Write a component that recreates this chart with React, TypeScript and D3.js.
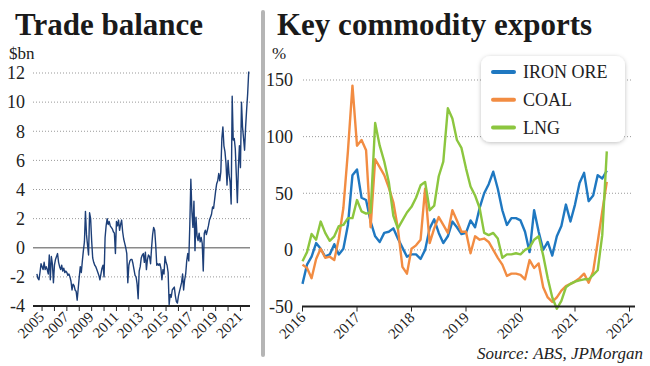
import React from 'react';
import * as d3 from 'd3';

// Trade balance, $bn, monthly from Aug 2004
const tradeStartYear = 2004 + 7 / 12;
const tradeBalance = [
  -1.8, -2.1, -2.2, -1.7, -1.1,
  -1.3, -1.5, -1.0, -1.5, -1.3, -1.5, -1.8, -0.5, -2.2, -0.6, -1.1, -2.4,
  -1.2, -0.8, -0.6, -0.4, -1.0, -1.3, -1.5, -1.2, -1.6, -1.4, -1.7, -1.6,
  -1.7, -1.9, -1.8, -2.0, -2.3, -2.9, -2.5, -2.6, -2.9, -3.0, -3.6, -2.8,
  -2.0, -1.3, -1.7, -0.9, -0.2, 0.4, 2.5, 0.9, 0.2, -0.5, 2.4, 2.0,
  0.5, -0.7, -1.0, -1.2, -1.3, -1.5, -1.7, -1.9, -2.2, -1.8, -1.4, -1.2,
  -2.0, 0.7, 1.5, 2.0, 1.6, 1.8, 1.5, 1.4, 1.3, 1.1, 1.0, -0.4,
  1.8, 1.5, 1.9, 1.2, 1.6, 1.9, 1.1, 0.6, 0.3, 0.0, -0.4, -2.4,
  -1.2, -0.9, -0.8, -0.8, -1.1, -1.5, -1.9, -2.0, -2.5, -3.5, -1.6, -1.3,
  -0.7, -0.5, -0.4, -1.0, -0.3, -1.5, -0.8, -0.5, -0.6, -1.1, 0.0, 0.9,
  1.4, 1.2, 0.2, -1.2, -1.1, -1.2, -1.1, -1.4, -2.2, -1.5, -1.8, -0.6,
  -1.0, -1.2, -1.7, -3.9, -3.2, -3.4, -2.9, -2.8, -2.7, -3.3, -3.7, -3.8,
  -3.3, -3.0, -2.7, -2.4, -1.8, -2.9, -2.2, -1.8, -0.9, -0.4, -0.9, 1.6,
  4.7, 2.5, 1.4, 3.2, -0.2, 2.1, 0.8, 0.5, 1.0, 0.4, 0.7, 0.3,
  -1.6, 1.0, 1.2, 0.9, 1.2, 1.5, 1.9, 2.1, 2.3, 2.8, 2.7, 3.3,
  3.9, 4.4, 4.6, 5.1, 4.6, 5.2, 7.5, 8.3, 7.0, 6.6, 5.8, 4.3,
  6.0, 5.0, 4.5, 3.0, 10.4, 7.4, 7.5, 6.8, 5.0, 3.1, 5.5, 7.0,
  5.5, 10.0, 8.3, 7.5, 6.7, 8.3, 9.5, 10.6, 12.1,
];

// Commodity exports, % change, monthly from Jan 2016
const commodityStartYear = 2016;
const ironOre = [
  -30, -13, -6, 6, 1, -6, -4, 5, -4, 1, 22, 66,
  71, 46, 44, 25, 12, 7, 15, 16, 19, 10, 2, -6,
  -4, -4, -8, 0, 19, 27, 15, 6, 12, 25, 20, 14,
  15, 26, 20, 37, 50, 58, 69, 54, 35, 22, 28, 28,
  26, 16, -2, 35, 16, 0, 7, -5, 12, 21, 40, 25,
  40, 59, 68, 43, 48, 66, 63, 70,
];
const coal = [
  -13, -16, -25, -8, 1, -7, -6, -9, 10, 37, 87, 145,
  92, 97, 88, 20, 80, 73, 66, 55, 42, 19, -15, -21,
  1, 4, 9, 54, 6, 19, 29, 22, 15, 35, 26, 16,
  16, -3, 12, 9, 10, 7, 0, -7, -13, -23, -21, -21,
  -22, -26, -9, -16, -12, -33, -42, -46, -42, -36, -32, -30,
  -28, -25, -21, -29, -19, 7, 34, 60,
];
const lng = [
  -10, -2, 14, 9, 25, 15, 8, 12, 21, 22, 28, 28,
  44, 34, 32, 33, 112, 92, 78, 60, 30, 19, 26, 33,
  38, 46, 57, 60, 35, 39, 65, 78, 125, 116, 97, 90,
  72, 56, 48, 37, 15, 13, 15, 10, -7, -4, -4, -3,
  -4, 0, 2, 9, 12, -5, -25, -42, -52, -45, -33, -30,
  -28, -27, -26, -26, -22, -18, 13, 87,
];

const seriesNames = ['IRON ORE', 'COAL', 'LNG'];
const seriesColors = ['#1f78c1', '#f28c42', '#8cc63f'];
const seriesValues = [ironOre, coal, lng];

const leftYTicks = [-4, -2, 0, 2, 4, 6, 8, 10, 12];
const leftYears = d3.range(2005, 2022);
const leftYearLabels = [2005, 2007, 2009, 2011, 2013, 2015, 2017, 2019, 2021];
const rightYTicks = [-50, 0, 50, 100, 150];
const rightYears = [2016, 2017, 2018, 2019, 2020, 2021, 2022];

const FONT = '"Liberation Serif", "Times New Roman", serif';
const INK = '#222';

const App: React.FC = () => {
  const W = 650;
  const H = 366;

  // left panel
  const xL = d3.scaleLinear().domain([2004.27, 2021.77]).range([33, 250]);
  const yL = d3.scaleLinear().domain([-4, 12]).range([306, 73]);
  const tradeLine = d3
    .line<number>()
    .x((_, i) => xL(tradeStartYear + i / 12))
    .y((d) => yL(d));

  // right panel
  const xR = d3.scaleLinear().domain([2016, 2022]).range([302.5, 629.5]);
  const yR = d3.scaleLinear().domain([-50, 150]).range([306.5, 80]);
  const commodityLine = d3
    .line<number>()
    .x((_, i) => xR(commodityStartYear + i / 12))
    .y((d) => yR(d));

  return (
    <svg
      width={W}
      height={H}
      style={{ position: 'absolute', left: 0, top: 0, background: '#fff' }}
      fontFamily={FONT}
    >
      <defs>
        <filter id="shadow" x="-20%" y="-20%" width="140%" height="150%">
          <feDropShadow dx="0" dy="1" stdDeviation="2" floodColor="#000" floodOpacity="0.25" />
        </filter>
      </defs>

      {/* titles */}
      <text x={15} y={35} fontSize={31} fontWeight="bold" fill="#1a1a1a">
        Trade balance
      </text>
      <text x={277} y={35} fontSize={31} fontWeight="bold" fill="#1a1a1a">
        Key commodity exports
      </text>
      <rect x={261} y={10} width={4} height={347} rx={2} fill="#b5b5b5" />

      {/* ---------- left chart ---------- */}
      <text x={9} y={59} fontSize={17} fill={INK}>$bn</text>
      {leftYTicks.map((t) => (
        <g key={t}>
          {t !== 0 && t !== -4 && (
            <line x1={33} x2={250} y1={yL(t)} y2={yL(t)} stroke="#999" strokeWidth={1} strokeDasharray="1,2" />
          )}
          <text x={25} y={yL(t)} dy="0.35em" textAnchor="end" fontSize={18} fill={INK}>
            {t}
          </text>
        </g>
      ))}
      <line x1={33} x2={250} y1={yL(0)} y2={yL(0)} stroke="#8a8a8a" strokeWidth={1.5} />
      <path d={tradeLine(tradeBalance) || ''} fill="none" stroke="#1d3f78" strokeWidth={1.4} strokeLinejoin="round" />
      <line x1={33} x2={250} y1={yL(-4)} y2={yL(-4)} stroke={INK} strokeWidth={2} />
      {leftYears.map((yr) => (
        <line key={yr} x1={xL(yr)} x2={xL(yr)} y1={yL(-4)} y2={yL(-4) + 5} stroke={INK} strokeWidth={1} />
      ))}
      {leftYearLabels.map((yr) => (
        <text
          key={yr}
          transform={`translate(${xL(yr) + 3},${yL(-4) + 12}) rotate(-45)`}
          textAnchor="end"
          fontSize={15}
          fill={INK}
        >
          {yr}
        </text>
      ))}

      {/* ---------- right chart ---------- */}
      <text x={272} y={59} fontSize={17} fill={INK}>%</text>
      {rightYTicks.map((t) => (
        <g key={t}>
          {t !== -50 && (
            <line x1={303} x2={632} y1={yR(t)} y2={yR(t)} stroke="#999" strokeWidth={1} strokeDasharray="1,2" />
          )}
          <text x={293} y={yR(t)} dy="0.35em" textAnchor="end" fontSize={18} fill={INK}>
            {t}
          </text>
        </g>
      ))}
      {seriesValues.map((vals, k) => (
        <path
          key={seriesNames[k]}
          d={commodityLine(vals) || ''}
          fill="none"
          stroke={seriesColors[k]}
          strokeWidth={2.4}
          strokeLinejoin="round"
        />
      ))}
      <line x1={302} x2={635} y1={yR(-50)} y2={yR(-50)} stroke={INK} strokeWidth={2} />
      {rightYears.map((yr) => (
        <g key={yr}>
          <line x1={xR(yr)} x2={xR(yr)} y1={yR(-50)} y2={yR(-50) + 5} stroke={INK} strokeWidth={1} />
          <text
            transform={`translate(${xR(yr) + 4},${yR(-50) + 12}) rotate(-45)`}
            textAnchor="end"
            fontSize={15}
            fill={INK}
          >
            {yr}
          </text>
        </g>
      ))}

      {/* legend */}
      <rect x={481} y={56} width={144} height={86} rx={9} fill="#fff" filter="url(#shadow)" />
      {seriesNames.map((name, k) => (
        <g key={name} transform={`translate(0,${72 + k * 27.7})`}>
          <line x1={493} x2={514} y1={0} y2={0} stroke={seriesColors[k]} strokeWidth={4} strokeLinecap="round" />
          <text x={523} y={0} dy="0.35em" fontSize={18} fill={INK}>
            {name}
          </text>
        </g>
      ))}

      <text x={643} y={359} textAnchor="end" fontSize={17} fontStyle="italic" fill={INK}>
        Source: ABS, JPMorgan
      </text>
    </svg>
  );
};

export default App;
